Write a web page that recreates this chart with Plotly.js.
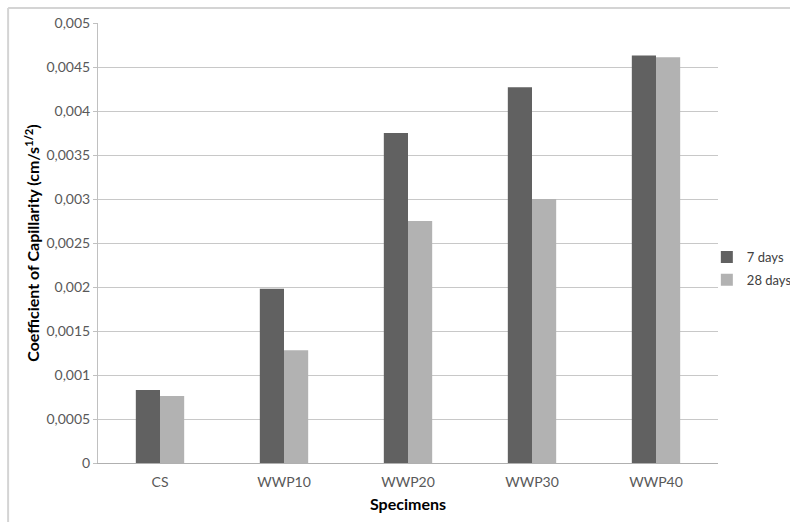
<!DOCTYPE html>
<html>
<head>
<meta charset="utf-8">
<script src="https://cdn.plot.ly/plotly-3.0.1.min.js"></script>
<style>html,body{margin:0;padding:0;background:#fff;}#chart{width:790px;height:522px;}</style>
</head>
<body>
<div id="chart"></div>
<script>
const categories = ["CS", "WWP10", "WWP20", "WWP30", "WWP40"];
const days7 = [0.00083, 0.00198, 0.00375, 0.00427, 0.00463];
const days28 = [0.00076, 0.00128, 0.00275, 0.00300, 0.00461];
const seriesNames = ["7 days", "28 days"];
const yTickVals = [0, 0.0005, 0.001, 0.0015, 0.002, 0.0025, 0.003, 0.0035, 0.004, 0.0045, 0.005];
const yTickText = ["0", "0,0005", "0,001", "0,0015", "0,002", "0,0025", "0,003", "0,0035", "0,004", "0,0045", "0,005"];

const font = "Lato, 'Open Sans', sans-serif";
const data = [
  {type: "bar", x: categories, y: days7, name: seriesNames[0], legendgroup: "g7", marker: {color: "#616161"}},
  {type: "bar", x: categories, y: days28, name: seriesNames[1], legendgroup: "g28", marker: {color: "#b2b2b2"}}
];
const layout = {
  width: 790, height: 522,
  margin: {l: 98, r: 72, t: 23, b: 59, pad: 0, autoexpand: false},
  paper_bgcolor: "#fff", plot_bgcolor: "#fff",
  barmode: "group", bargap: 0.61, bargroupgap: 0,
  font: {family: font, color: "#595959", size: 14},
  showlegend: true,
  legend: {x: 0.982, y: 0.442, xanchor: "left", yanchor: "middle",
           font: {family: font, size: 13, color: "#404040"},
           itemwidth: 30, tracegroupgap: 3, bgcolor: "rgba(0,0,0,0)"},
  xaxis: {
    type: "category",
    showline: true, linecolor: "#b0b0b0", linewidth: 1,
    ticks: "", showgrid: false, zeroline: false,
    ticklabelstandoff: 6,
    tickfont: {family: font, size: 14, color: "#595959"},
    title: {text: "<b>Specimens</b>", font: {family: font, size: 16, color: "#000"}, standoff: 10}
  },
  yaxis: {
    range: [0, 0.005],
    tickvals: yTickVals, ticktext: yTickText,
    showline: true, linecolor: "#c0c0c0", linewidth: 1,
    ticks: "outside", ticklen: 4, tickcolor: "#c0c0c0",
    showgrid: true, gridcolor: "#c8c8c8", gridwidth: 1,
    zeroline: false,
    tickfont: {family: font, size: 14, color: "#595959"},
    title: {text: "<b>Coefficient of Capillarity (cm/s<sup>1/2</sup>)</b>", font: {family: font, size: 16, color: "#000"}, standoff: 2}
  },
  shapes: [
    {type: "line", xref: "paper", yref: "paper", x0: -0.145, x1: 1.2, y0: 1.034, y1: 1.034,
     line: {color: "#d4d4d4", width: 2}},
    {type: "line", xref: "paper", yref: "paper", x0: -0.145, x1: -0.145, y0: 1.034, y1: -0.2,
     line: {color: "#d4d4d4", width: 2}}
  ]
};
Plotly.newPlot("chart", data, layout, {displayModeBar: false, staticPlot: true});
</script>
</body>
</html>
